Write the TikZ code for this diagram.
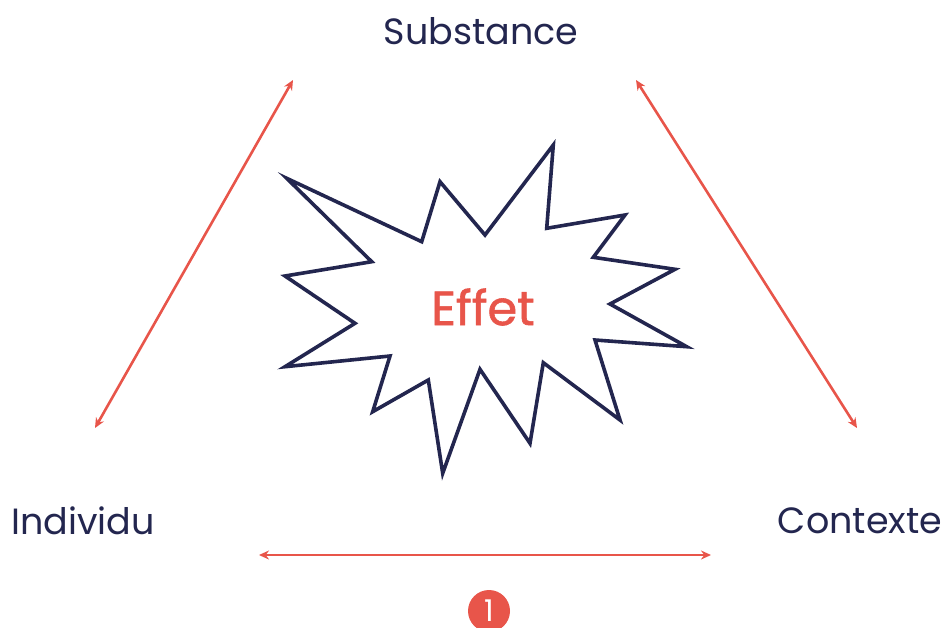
\documentclass[tikz,border=0pt]{standalone}
\usepackage{fontspec}
\setmainfont{Poppins}
\newfontfamily\effetfont{Poppins}[FakeBold=1.2]
\usetikzlibrary{arrows.meta}
\definecolor{navy}{HTML}{23264F}
\definecolor{coral}{HTML}{E8554A}
\tikzset{
  lbl/.style={text=navy, font=\fontsize{36.5}{42}\selectfont, inner sep=0pt},
  rel/.style={draw=coral, line width=2.6pt, {Stealth[length=10pt,width=9pt]}-{Stealth[length=10pt,width=9pt]}},
  burst/.style={draw=navy, line width=3.6pt, line join=miter, fill=white},
}
\begin{document}
\begin{tikzpicture}[x=1pt,y=-1pt]
\useasboundingbox (0,0) rectangle (945,627);
\node[lbl] (sub) at (481,31) {Substance};
\node[lbl] (ind) at (83,521) {Individu};
\node[lbl] (ctx) at (860,521) {Contexte};
\coordinate (a1) at (293,80);
\coordinate (a2) at (95,428);
\coordinate (b1) at (636,80);
\coordinate (b2) at (857,428);
\coordinate (c1) at (259,555);
\coordinate (c2) at (711,555);
\draw[rel] (a1) -- (a2);
\draw[rel] (b1) -- (b2);
\draw[rel] (c1) -- (c2);
\draw[burst] (286.7,178.3) -- (421.7,241.7) -- (440,181.7) -- (485,235) -- (553.3,145) -- (546.7,228.3) -- (625,215) -- (593.3,257.3) -- (675,269.3) -- (610,304) -- (686.7,346.7) -- (595,340) -- (620,420) -- (543.3,362.7) -- (530,443.3) -- (480,369.3) -- (442.7,473.3) -- (428.3,380) -- (372.7,411.7) -- (390,356) -- (285,366.7) -- (355,323.3) -- (285,276) -- (371.7,261.7) -- cycle;
\node[text=coral, font=\effetfont\fontsize{48}{54}\selectfont, inner sep=0pt] (eff) at (483,307) {Effet};
\node[circle, fill=coral, minimum size=42pt, inner sep=0pt, text=white, font=\fontsize{30}{34}\selectfont] (num) at (489,611) {1};
\end{tikzpicture}
\end{document}
